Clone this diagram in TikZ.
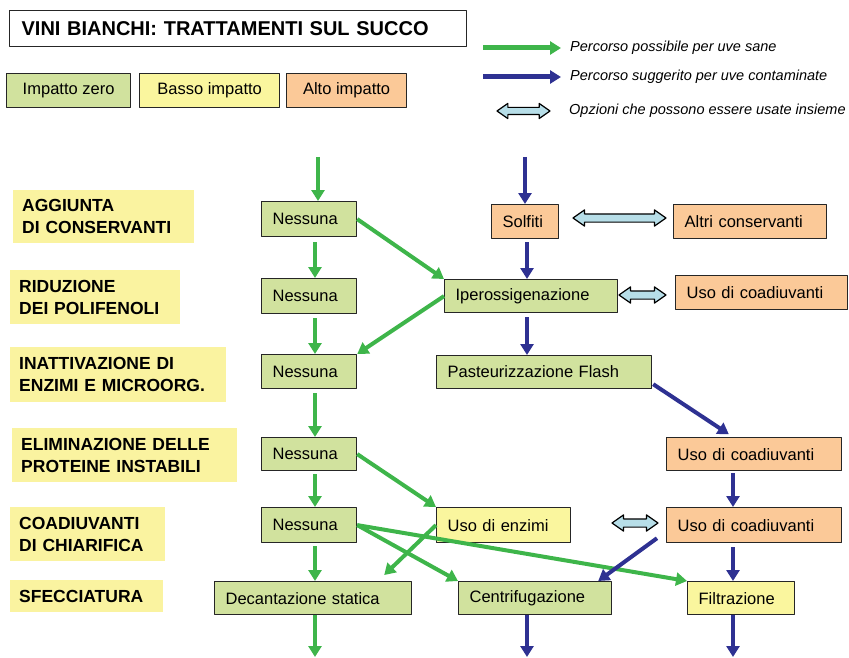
\documentclass[tikz,border=0pt]{standalone}
\usepackage{fontspec}
\setmainfont{Liberation Sans}
\usetikzlibrary{arrows.meta}
\usetikzlibrary{shapes.arrows}
\usetikzlibrary{calc}
\definecolor{zero}{RGB}{209,226,158}
\definecolor{basso}{RGB}{250,246,158}
\definecolor{alto}{RGB}{251,201,152}
\definecolor{phasefill}{RGB}{250,243,160}
\definecolor{pathgreen}{RGB}{62,181,74}
\definecolor{pathblue}{RGB}{46,49,146}
\definecolor{optfill}{RGB}{183,222,232}
\tikzstyle{every node}=[font=\fontsize{16.5}{19}\selectfont]
\tikzstyle{every path}=[line join=round]
\tikzstyle{box}=[draw=black!85,line width=1.2pt,anchor=north west,align=left,inner xsep=11pt,inner ysep=0pt,minimum height=34pt]
\tikzstyle{legendbox}=[draw=black!85,line width=1.2pt,anchor=north west,minimum height=34pt]
\tikzstyle{legendtext}=[anchor=west,inner xsep=0pt,font=\fontsize{14.5}{17}\selectfont\itshape]
\tikzstyle{phase}=[fill=phasefill,anchor=north west,align=left,inner xsep=9pt,font=\fontsize{17.5}{22}\selectfont\bfseries]
\tikzstyle{sanearrow}=[draw=pathgreen,line width=4pt,-{Triangle[width=13pt,length=11pt]}]
\tikzstyle{contarrow}=[draw=pathblue,line width=4pt,-{Triangle[width=13pt,length=11pt]}]
\tikzstyle{option}=[double arrow,draw=black,fill=optfill,line width=1.2pt,inner xsep=0pt,inner ysep=3.5pt,double arrow head extend=4pt,double arrow tip angle=70]

\begin{document}
\begin{tikzpicture}[x=1pt,y=-1pt]
    \useasboundingbox (0,0) rectangle (849,658);

    % Title and impact legend
    \node[draw=black!85,line width=1.2pt,anchor=north west,align=left,text width=433pt,inner xsep=12pt,minimum height=36pt,
        font=\fontsize{20}{22}\selectfont\bfseries] (Title) at (9,10) {VINI BIANCHI: TRATTAMENTI SUL SUCCO};
    \node[legendbox,fill=zero,minimum width=124pt] (LegZero) at (6,73) {Impatto zero};
    \node[legendbox,fill=basso,minimum width=140pt] (LegBasso) at (139,73) {Basso impatto};
    \node[legendbox,fill=alto,minimum width=120pt] (LegAlto) at (286,73) {Alto impatto};

    % Path legend
    \node[legendtext] (LegSane) at (570,48) {Percorso possibile per uve sane};
    \node[legendtext] (LegCont) at (570,77) {Percorso suggerito per uve contaminate};
    \node[legendtext] (LegOpt) at (569,111) {Opzioni che possono essere usate insieme};
    \coordinate (LegA1) at (483,48);
    \coordinate (LegA2) at (483,77);
    \draw[sanearrow,line width=5pt] (LegA1) -- ([xshift=-9pt]LegSane.west);
    \draw[contarrow,line width=5pt] (LegA2) -- ([xshift=-9pt]LegCont.west);
    \node[option,inner ysep=3pt,minimum height=53pt] (LegOptArrow) at (523.5,111) {};

    % Treatment phases
    \node[phase,text width=163pt,minimum height=53pt] (PhAggiunta) at (13,190) {AGGIUNTA\\DI CONSERVANTI};
    \node[phase,text width=152pt,minimum height=54pt] (PhRiduzione) at (10,270) {RIDUZIONE\\DEI POLIFENOLI};
    \node[phase,text width=198pt,minimum height=55pt] (PhInattiv) at (10,347) {INATTIVAZIONE DI\\ENZIMI E MICROORG.};
    \node[phase,text width=207pt,minimum height=54pt] (PhElimina) at (12,428) {ELIMINAZIONE DELLE\\PROTEINE INSTABILI};
    \node[phase,text width=137pt,minimum height=54pt] (PhCoad) at (10,507) {COADIUVANTI\\DI CHIARIFICA};
    \node[phase,text width=135pt,minimum height=32pt] (PhSfecc) at (10,580) {SFECCIATURA};

    % Left column
    \node[box,fill=zero,text width=73pt,minimum height=35pt] (Ness1) at (261,201) {Nessuna};
    \node[box,fill=zero,text width=73pt,minimum height=35pt] (Ness2) at (261,278) {Nessuna};
    \node[box,fill=zero,text width=73pt] (Ness3) at (261,354) {Nessuna};
    \node[box,fill=zero,text width=73pt,minimum height=33pt] (Ness4) at (261,437) {Nessuna};
    \node[box,fill=zero,text width=73pt,minimum height=35pt] (Ness5) at (261,507) {Nessuna};
    \node[box,fill=zero,text width=175pt,minimum height=33pt] (Decant) at (214,581) {Decantazione statica};

    % Middle column
    \node[box,fill=alto,text width=45pt] (Solfiti) at (491,204) {Solfiti};
    \node[box,fill=zero,text width=151pt,minimum height=33pt] (Iperox) at (444,279) {Iperossigenazione};
    \node[box,fill=zero,text width=193pt,minimum height=33pt] (Pasteur) at (436,355) {Pasteurizzazione Flash};
    \node[box,fill=basso,text width=112pt,minimum height=35pt] (Enzimi) at (436,507) {Uso di enzimi};
    \node[box,fill=zero,text width=131pt,minimum height=33pt] (Centrif) at (458,581) {Centrifugazione};

    % Right column
    \node[box,fill=alto,text width=131pt] (Altri) at (673,204) {Altri conservanti};
    \node[box,fill=alto,text width=150pt] (Coad1) at (675,275) {Uso di coadiuvanti};
    \node[box,fill=alto,text width=153pt,minimum height=33pt] (Coad2) at (666,437) {Uso di coadiuvanti};
    \node[box,fill=alto,text width=153pt,minimum height=35pt] (Coad3) at (666,507) {Uso di coadiuvanti};
    \node[box,fill=basso,text width=85pt,minimum height=33pt] (Filtr) at (687,581) {Filtrazione};

    % Options used together
    \node[option,minimum height=93pt] (Opt1) at (619.5,218) {};
    \node[option,minimum height=47pt] (Opt2) at (642.5,295) {};
    \node[option,minimum height=46pt] (Opt3) at (635,523) {};

    % Column lines, inputs and outputs
    \coordinate (ColA) at (315,0);
    \coordinate (ColB) at (527,0);
    \coordinate (ColC) at (733,0);
    \coordinate (InA) at (318,157);
    \coordinate (InB) at (525,157);
    \coordinate (OutA) at (315,657);
    \coordinate (OutB) at (527,657);
    \coordinate (OutC) at (733,657);

    % Green path
    \draw[sanearrow] (InA) -- (Ness1.north -| InA);
    \draw[sanearrow,shorten <=5pt] (Ness1.south -| ColA) -- (Ness2.north -| ColA);
    \draw[sanearrow,shorten <=4pt] (Ness2.south -| ColA) -- (Ness3.north -| ColA);
    \draw[sanearrow,shorten <=4pt] (Ness3.south -| ColA) -- (Ness4.north -| ColA);
    \draw[sanearrow,shorten <=3pt] (Ness4.south -| ColA) -- (Ness5.north -| ColA);
    \draw[sanearrow,shorten <=3pt] (Ness5.south -| ColA) -- (Decant.north -| ColA);
    \draw[sanearrow] (Decant.south -| ColA) -- (OutA);
    \draw[sanearrow] (Ness1.east) -- (Iperox.north west);
    \draw[sanearrow] (Iperox.west) -- (Ness3.north east);
    \draw[sanearrow] (Ness4.east) -- (Enzimi.north west);
    \draw[sanearrow] (Enzimi.west) -- ($(Decant.north east)+(-28,-6)$);
    \draw[sanearrow] (Ness5.east) -- (Centrif.north west);
    \draw[sanearrow] (Ness5.east) -- (Filtr.north west);

    % Blue path
    \draw[contarrow] (InB) -- (Solfiti.north -| InB);
    \draw[contarrow,shorten <=3pt] (Solfiti.south -| ColB) -- (Iperox.north -| ColB);
    \draw[contarrow,shorten <=4pt] (Iperox.south -| ColB) -- (Pasteur.north -| ColB);
    \draw[contarrow,shorten >=5pt] ($(Pasteur.south east)+(1,-5)$) -- (Coad2.north -| ColC);
    \draw[contarrow,shorten <=2pt] (Coad2.south -| ColC) -- (Coad3.north -| ColC);
    \draw[contarrow,shorten <=4pt] (Coad3.south -| ColC) -- (Filtr.north -| ColC);
    \draw[contarrow] ($(Coad3.south west)+(-9,-5)$) -- ($(Centrif.north east)+(-14,0)$);
    \draw[contarrow] (Centrif.south -| ColB) -- (OutB);
    \draw[contarrow] (Filtr.south -| ColC) -- (OutC);
\end{tikzpicture}
\end{document}
